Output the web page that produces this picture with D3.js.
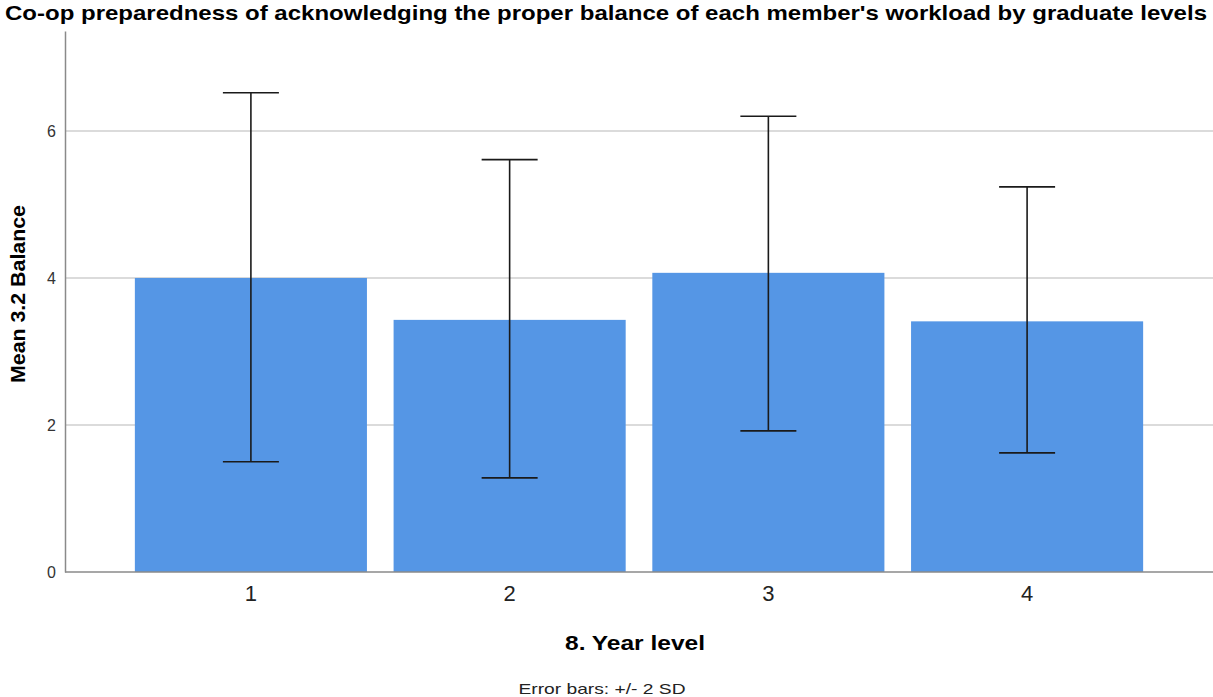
<!DOCTYPE html>
<html><head><meta charset="utf-8">
<script src="https://cdn.jsdelivr.net/npm/d3@7"></script>
<style>body{margin:0;background:#fff}svg{display:block}</style>
</head><body>
<script>
const categories = ["1","2","3","4"];
const means = [4.00, 3.43, 4.07, 3.41];
const errLow = [1.50, 1.28, 1.92, 1.62];
const errHigh = [6.52, 5.61, 6.20, 5.24];
const yTicks = [0, 2, 4, 6];

const W = 1213, H = 697;
const m = {left: 65, right: 0, top: 31, bottom: 125};
const FF = "Arial, 'Liberation Sans', sans-serif";
const svg = d3.select("body").append("svg").attr("width", W).attr("height", H)
  .style("font-family", FF);

const x = d3.scaleBand().domain(categories).range([m.left, W - m.right])
  .paddingInner(0.103).paddingOuter(0.27);
const y = d3.scaleLinear().domain([0, 7.36]).range([H - m.bottom, m.top]);

// gridlines
svg.append("g").selectAll("line").data(yTicks.filter(d => d > 0)).join("line")
  .attr("x1", m.left).attr("x2", W).attr("y1", d => y(d)).attr("y2", d => y(d))
  .attr("stroke", "#cfcfcf").attr("stroke-width", 1.5);

// bars
svg.append("g").selectAll("rect").data(categories).join("rect")
  .attr("x", d => x(d)).attr("width", x.bandwidth())
  .attr("y", (d, i) => y(means[i])).attr("height", (d, i) => y(0) - y(means[i]))
  .attr("fill", "#5596e5");

// error bars
const eb = svg.append("g").attr("stroke", "#1a1a1a").attr("stroke-width", 1.6);
categories.forEach((c, i) => {
  const cx = x(c) + x.bandwidth() / 2;
  eb.append("line").attr("x1", cx).attr("x2", cx).attr("y1", y(errHigh[i])).attr("y2", y(errLow[i]));
  eb.append("line").attr("x1", cx - 28).attr("x2", cx + 28).attr("y1", y(errHigh[i])).attr("y2", y(errHigh[i]));
  eb.append("line").attr("x1", cx - 28).attr("x2", cx + 28).attr("y1", y(errLow[i])).attr("y2", y(errLow[i]));
});

// y axis
const ya = svg.append("g").attr("transform", `translate(${m.left},0)`)
  .call(d3.axisLeft(y).tickValues(yTicks).tickSize(0).tickPadding(9).tickFormat(d3.format("d")));
ya.select(".domain").attr("stroke", "#8a8a8a").attr("stroke-width", 1.5);
ya.selectAll("text").attr("font-size", 16).attr("fill", "#333").style("font-family", FF);

// x axis
const xa = svg.append("g").attr("transform", `translate(0,${y(0)})`)
  .call(d3.axisBottom(x).tickSize(0).tickPadding(13));
xa.select(".domain").attr("stroke", "#8a8a8a").attr("stroke-width", 1.5).attr("d", `M${m.left},0H${W}`);
xa.selectAll("text").attr("font-size", 22).attr("fill", "#222").style("font-family", FF);

// title
svg.append("text").attr("x", 606).attr("y", 20).attr("text-anchor", "middle")
  .attr("font-size", 20.5).attr("font-weight", "bold").attr("fill", "#000")
  .attr("textLength", 1202).attr("lengthAdjust", "spacingAndGlyphs")
  .text("Co-op preparedness of acknowledging the proper balance of each member's workload by graduate levels");

// axis titles
svg.append("text").attr("x", 635).attr("y", 650).attr("text-anchor", "middle")
  .attr("font-size", 21).attr("font-weight", "bold")
  .attr("textLength", 140).attr("lengthAdjust", "spacingAndGlyphs").text("8. Year level");
svg.append("text").attr("transform", `translate(25,294) rotate(-90)`).attr("text-anchor", "middle")
  .attr("font-size", 21).attr("font-weight", "bold")
  .attr("textLength", 178).attr("lengthAdjust", "spacingAndGlyphs").text("Mean 3.2 Balance");

svg.append("text").attr("x", 602).attr("y", 694).attr("text-anchor", "middle")
  .attr("font-size", 15).attr("fill", "#222")
  .attr("textLength", 167).attr("lengthAdjust", "spacingAndGlyphs").text("Error bars: +/- 2 SD");
</script>
</body></html>
